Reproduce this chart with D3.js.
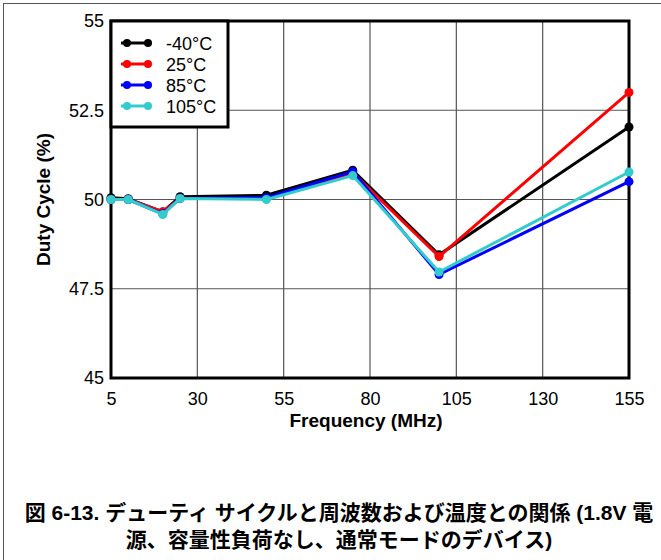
<!DOCTYPE html>
<html><head><meta charset="utf-8">
<script src="https://cdn.jsdelivr.net/npm/d3@7"></script>
<style>body{margin:0;background:#fff}svg{display:block}</style>
</head><body>
<script>
const freqs = [5, 10, 20, 25, 50, 75, 100, 155];
const seriesNames = ["-40°C", "25°C", "85°C", "105°C"];
const seriesColors = ["#000000", "#ff0000", "#0000ff", "#33cccc"];
const vM40 = [50.05, 50.02, 49.65, 50.08, 50.12, 50.82, 48.45, 52.03];
const v25 = [50.0, 50.0, 49.66, 50.03, 50.03, 50.75, 48.4, 53.0];
const v85 = [50.0, 50.0, 49.6, 50.03, 50.05, 50.78, 47.9, 50.5];
const v105 = [50.0, 50.0, 49.58, 50.03, 50.0, 50.67, 47.97, 50.77];
const xTicks = [5, 30, 55, 80, 105, 130, 155];
const yTicks = [45, 47.5, 50, 52.5, 55];
const captionLines = ["図 6-13. デューティ サイクルと周波数および温度との関係 (1.8V 電", "源、容量性負荷なし、通常モードのデバイス)"];

const values = [vM40, v25, v85, v105];
const W = 661, H = 560;
const FONT = "'Liberation Sans', Arial, sans-serif";
const svg = d3.select("body").append("svg").attr("width", W).attr("height", H)
  .style("font-family", FONT);

// outer frame
svg.append("rect").attr("x", 3.5).attr("y", 3.5).attr("width", 700).attr("height", 600)
  .attr("fill", "none").attr("stroke", "#555").attr("stroke-width", 1);

const L = 111, R = 629, T = 21, B = 378;
const x = d3.scaleLinear().domain([5, 155]).range([L, R]);
const y = d3.scaleLinear().domain([45, 55]).range([B, T]);

// grid
const g = svg.append("g");
g.selectAll("line.vx").data(xTicks).join("line")
  .attr("x1", d => x(d)).attr("x2", d => x(d)).attr("y1", T).attr("y2", B)
  .attr("stroke", "#555").attr("stroke-width", 1.2);
g.selectAll("line.hy").data(yTicks).join("line")
  .attr("x1", L).attr("x2", R).attr("y1", d => y(d)).attr("y2", d => y(d))
  .attr("stroke", "#555").attr("stroke-width", 1.2);

// axes (labels)
const xa = svg.append("g").attr("transform", `translate(0,${B})`)
  .call(d3.axisBottom(x).tickValues(xTicks).tickSize(0).tickPadding(14).tickFormat(d3.format("d")));
xa.select(".domain").remove();
xa.selectAll("text").attr("font-size", 18).attr("fill", "#000").style("font-family", FONT);
const ya = svg.append("g").attr("transform", `translate(${L},0)`)
  .call(d3.axisLeft(y).tickValues(yTicks).tickSize(0).tickPadding(7).tickFormat(d => String(d)));
ya.select(".domain").remove();
ya.selectAll("text").attr("font-size", 18).attr("fill", "#000").style("font-family", FONT);

// plot frame
svg.append("rect").attr("x", L).attr("y", T).attr("width", R - L).attr("height", B - T)
  .attr("fill", "none").attr("stroke", "#000").attr("stroke-width", 3);

// series
const line = d3.line().x((d, i) => x(freqs[i])).y(d => y(d));
values.forEach((vals, si) => {
  const sg = svg.append("g");
  sg.append("path").datum(vals).attr("d", line).attr("fill", "none")
    .attr("stroke", seriesColors[si]).attr("stroke-width", 3).attr("stroke-linejoin", "round");
  sg.selectAll("circle").data(vals).join("circle")
    .attr("cx", (d, i) => x(freqs[i])).attr("cy", d => y(d)).attr("r", 4.5)
    .attr("fill", seriesColors[si]);
});

// legend
const lg = svg.append("g");
lg.append("rect").attr("x", L).attr("y", T).attr("width", 117).attr("height", 106)
  .attr("fill", "#fff").attr("stroke", "#000").attr("stroke-width", 3);
seriesNames.forEach((n, i) => {
  const yy = 43 + i * 21;
  lg.append("line").attr("x1", 121).attr("x2", 150).attr("y1", yy).attr("y2", yy)
    .attr("stroke", seriesColors[i]).attr("stroke-width", 3);
  lg.append("circle").attr("cx", 127).attr("cy", yy).attr("r", 4).attr("fill", seriesColors[i]);
  lg.append("circle").attr("cx", 148).attr("cy", yy).attr("r", 4).attr("fill", seriesColors[i]);
  lg.append("text").attr("x", 166).attr("y", yy + 6.5).attr("font-size", 18).text(n);
});

// axis titles
svg.append("text").attr("x", 366).attr("y", 427).attr("text-anchor", "middle")
  .attr("font-size", 19).attr("font-weight", "bold").text("Frequency (MHz)");
svg.append("text").attr("transform", `translate(50,${(T + B) / 2}) rotate(-90)`)
  .attr("text-anchor", "middle").attr("font-size", 19).attr("font-weight", "bold").text("Duty Cycle (%)");

// caption
captionLines.forEach((t, i) => {
  svg.append("text").attr("x", 339).attr("y", 520 + i * 27).attr("text-anchor", "middle")
    .attr("font-size", 21).attr("font-weight", "bold")
    .style("font-family", "'Liberation Sans', 'Noto Sans CJK JP', sans-serif").text(t);
});
</script>
</body></html>
